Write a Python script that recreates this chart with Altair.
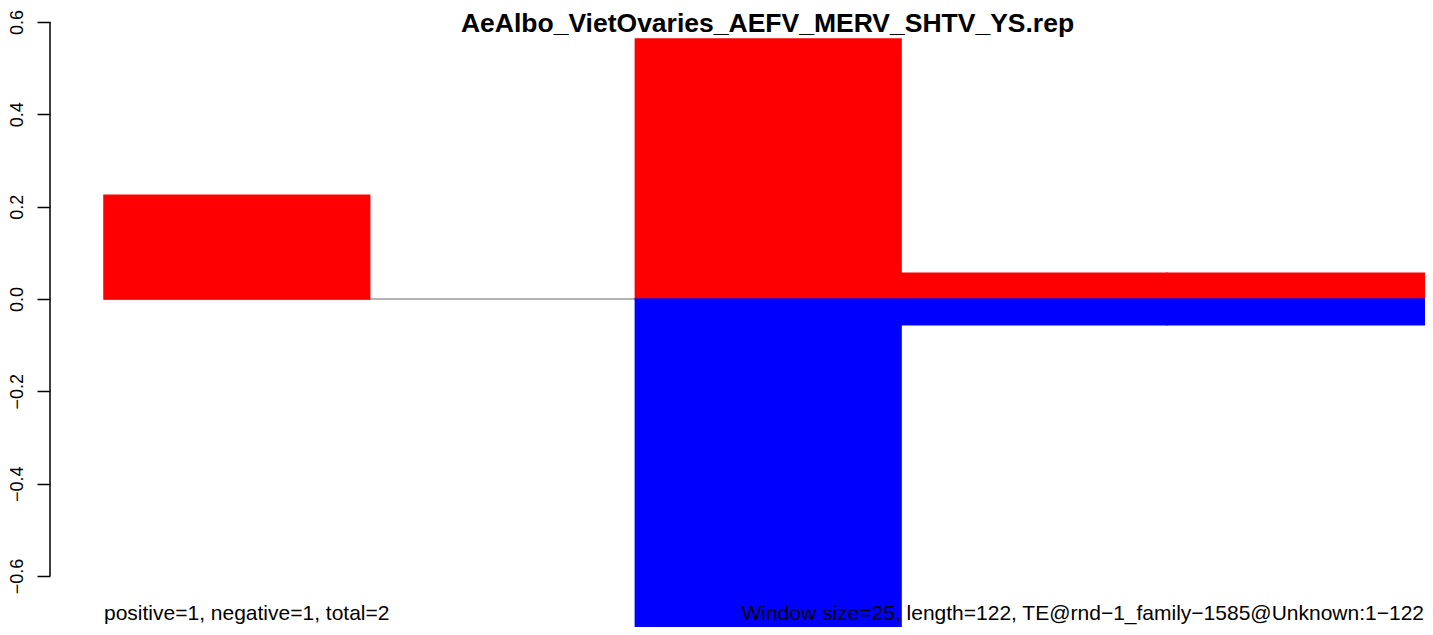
import altair as alt
import pandas as pd

# Window data (window size 25)
win_start = [0, 25, 50, 75, 100]
win_end = [25, 50, 75, 100, 125]
pos_vals = [0.225, 0.0, 0.563, 0.056, 0.056]
neg_vals = [0.0, 0.0, -0.74, -0.056, -0.056]

y_ticks = [-0.6, -0.4, -0.2, 0.0, 0.2, 0.4, 0.6]
title_text = "AeAlbo_VietOvaries_AEFV_MERV_SHTV_YS.rep"
left_note = "positive=1, negative=1, total=2"
right_note = "Window size=25, length=122, TE@rnd\u22121_family\u22121585@Unknown:1\u2212122"

rows = []
for s, e, p, n in zip(win_start, win_end, pos_vals, neg_vals):
    rows.append({"start": s, "end": e, "value": p, "series": "positive"})
    rows.append({"start": s, "end": e, "value": n, "series": "negative"})
df = pd.DataFrame(rows)

FONT = "Liberation Sans, Arial, Helvetica"
PAD_LEFT = 42
W, H = 1417 - PAD_LEFT, 619
xscale = alt.Scale(domain=[-5.08, 124.3], nice=False, zero=False)
yscale = alt.Scale(domain=[-0.7104, 0.6303], nice=False, zero=False)
color_scale = alt.Scale(domain=["positive", "negative"], range=["#ff0000", "#0000ff"])

zero_line = alt.Chart(pd.DataFrame({"a": [0], "b": [125], "y": [0]})).mark_rule(
    color="#9a9a9a", strokeWidth=1.5, clip=True
).encode(
    x=alt.X("a:Q", scale=xscale, axis=None),
    x2="b:Q",
    y=alt.Y("y:Q", scale=yscale),
)

bars = alt.Chart(df).mark_rect(clip=True, strokeWidth=1.5).encode(
    x=alt.X("start:Q", scale=xscale, axis=None),
    x2="end:Q",
    y=alt.Y(
        "value:Q",
        scale=yscale,
        axis=alt.Axis(
            values=y_ticks,
            domain=False,
            grid=False,
            ticks=True,
            tickSize=13,
            tickWidth=1.5,
            tickColor="black",
            labelAngle=270,
            labelAlign="center",
            labelBaseline="alphabetic",
            labelPadding=15,
            labelFont=FONT,
            labelFontSize=18,
            labelColor="black",
            labelExpr="replace(format(datum.value, '.1f'), '-', '\u2212')",
            title=None,
        ),
    ),
    y2=alt.Y2("zero:Q"),
    color=alt.Color("series:N", scale=color_scale, legend=None),
    stroke=alt.Stroke("series:N", scale=color_scale, legend=None),
).transform_calculate(zero="0").transform_filter("datum.value != 0")

axis_line = alt.Chart(pd.DataFrame({"lo": [-0.6], "hi": [0.6]})).mark_rule(
    color="black", strokeWidth=1.5
).encode(
    x=alt.value(0),
    y=alt.Y("lo:Q", scale=yscale),
    y2="hi:Q",
)

title = alt.Chart(pd.DataFrame({"t": [title_text]})).mark_text(
    font=FONT, fontSize=26.5, fontWeight="bold", align="center", baseline="top", color="black"
).encode(x=alt.value(717.5), y=alt.value(3), text="t:N")

note_left = alt.Chart(pd.DataFrame({"t": [left_note]})).mark_text(
    font=FONT, fontSize=21, align="left", baseline="alphabetic", color="black"
).encode(x=alt.value(54), y=alt.value(612), text="t:N")

note_right = alt.Chart(pd.DataFrame({"t": [right_note]})).mark_text(
    font=FONT, fontSize=21, align="right", baseline="alphabetic", color="black"
).encode(x=alt.value(W - 1), y=alt.value(612), text="t:N")

chart = alt.layer(zero_line, bars, axis_line, title, note_left, note_right).properties(
    width=W,
    height=H,
    autosize=alt.AutoSizeParams(type="none"),
    padding={"left": PAD_LEFT, "top": 0, "right": 0, "bottom": 0},
    background="white",
).configure_view(stroke=None)

chart.save("out.html", embed_options={"renderer": "svg", "actions": False})
